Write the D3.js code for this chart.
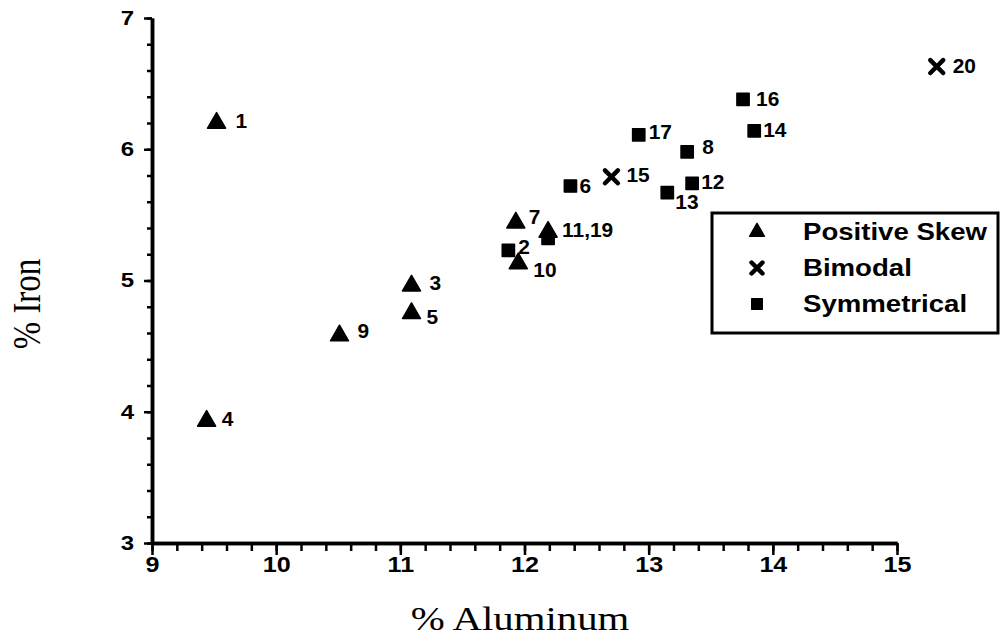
<!DOCTYPE html>
<html>
<head>
<meta charset="utf-8">
<script src="https://cdn.jsdelivr.net/npm/d3@7"></script>
<style>
  html, body { margin: 0; padding: 0; background: #fff; }
  svg { display: block; }
</style>
</head>
<body>
<svg id="chart" width="1006" height="641"></svg>
<script>
// Sample composition: aluminium vs iron content, grouped by grain-size distribution shape
const sampleLabels = ["1", "2", "3", "4", "5", "6", "7", "8", "9", "10", "11,19", "", "12", "13", "14", "15", "16", "17", "20"];
const aluminum     = [9.52, 11.87, 11.09, 9.44, 11.09, 12.37, 11.93, 13.31, 10.51, 11.95, 12.19, 12.19, 13.35, 13.15, 13.85, 12.70, 13.76, 12.92, 15.32];
const iron         = [6.20, 5.23, 4.96, 3.93, 4.75, 5.72, 5.44, 5.98, 4.58, 5.13, 5.37, 5.32, 5.74, 5.67, 6.14, 5.79, 6.38, 6.11, 6.63];
const shapes       = ["Positive Skew", "Symmetrical", "Positive Skew", "Positive Skew", "Positive Skew", "Symmetrical", "Positive Skew", "Symmetrical", "Positive Skew", "Positive Skew", "Positive Skew", "Symmetrical", "Symmetrical", "Symmetrical", "Symmetrical", "Bimodal", "Symmetrical", "Symmetrical", "Bimodal"];

const legendNames = ["Positive Skew", "Bimodal", "Symmetrical"];
const xTicks = [9, 10, 11, 12, 13, 14, 15];
const yTicks = [3, 4, 5, 6, 7];
const xTitle = "% Aluminum";
const yTitle = "% Iron";

const svg = d3.select("#chart");
const SX = 1.2;             // horizontal stretch applied to lettering
const sans = "'Liberation Sans', Arial, sans-serif";
const serif = "'Liberation Serif', 'Times New Roman', serif";

const x = d3.scaleLinear().domain([9, 15]).range([152, 897]);
const y = d3.scaleLinear().domain([3, 7]).range([543, 18]);

// ---- axes ----
const minorX = d3.range(9, 15.001, 0.2);
const minorY = d3.range(3, 7.001, 0.2);

function styleAxis(g) {
  g.select(".domain").attr("stroke", "#000").attr("stroke-width", 3.5);
  g.selectAll(".tick line").attr("stroke", "#000").attr("stroke-width", 2.5);
}

svg.append("g")
  .attr("transform", `translate(0,${y(3)})`)
  .call(d3.axisBottom(x).tickValues(minorX).tickSize(8).tickSizeOuter(0).tickFormat(""))
  .call(styleAxis);

const gx = svg.append("g")
  .attr("transform", `translate(0,${y(3)})`)
  .call(d3.axisBottom(x).tickValues(xTicks).tickSize(12).tickSizeOuter(0).tickPadding(1).tickFormat(d3.format("d")))
  .call(styleAxis);
gx.selectAll(".tick text")
  .attr("font-family", sans).attr("font-weight", "bold").attr("font-size", 22).attr("fill", "#000")
  .attr("transform", `scale(${SX * 0.95},1)`);

svg.append("g")
  .attr("transform", `translate(${x(9)},0)`)
  .call(d3.axisLeft(y).tickValues(minorY).tickSize(5).tickSizeOuter(0).tickFormat(""))
  .call(styleAxis);

const gy = svg.append("g")
  .attr("transform", `translate(${x(9)},0)`)
  .call(d3.axisLeft(y).tickValues(yTicks).tickSize(8).tickSizeOuter(0).tickPadding(7).tickFormat(d3.format("d")))
  .call(styleAxis);
gy.selectAll(".tick text")
  .attr("font-family", sans).attr("font-weight", "bold").attr("font-size", 20).attr("fill", "#000")
  .attr("transform", `scale(${SX},1)`);

// ---- axis titles ----
svg.append("text")
  .attr("transform", `translate(520,630) scale(${SX},1)`)
  .attr("text-anchor", "middle")
  .attr("font-family", serif).attr("font-size", 34)
  .text(xTitle);

svg.append("text")
  .attr("transform", `translate(40,304) scale(${SX},1) rotate(-90)`)
  .attr("text-anchor", "middle")
  .attr("font-family", serif).attr("font-size", 33)
  .text(yTitle);

// ---- markers ----
const markerPath = {
  "Positive Skew": d3.symbol(d3.symbolTriangle, 140)(),
  "Symmetrical": d3.symbol(d3.symbolSquare, 150)(),
  "Bimodal": d3.symbol(d3.symbolX, 110)()
};
const legendPath = {
  "Positive Skew": d3.symbol(d3.symbolTriangle, 95)(),
  "Symmetrical": d3.symbol(d3.symbolSquare, 110)(),
  "Bimodal": d3.symbol(d3.symbolX, 80)()
};

function drawMarker(sel, shape, paths) {
  const p = sel.append("path").attr("d", paths[shape]);
  if (shape === "Bimodal") {
    p.attr("fill", "none").attr("stroke", "#000").attr("stroke-width", 4.5).attr("stroke-linecap", "round");
  } else {
    p.attr("fill", "#000").attr("stroke", "#000").attr("stroke-width", 1.5).attr("stroke-linejoin", "round");
  }
}

// label placement next to each marker (pixels)
const labelOffset = {
  "1": [19, -2], "2": [10, -4], "3": [18, -3], "4": [15, -2], "5": [15, 3],
  "6": [9, 0], "7": [13, -6], "8": [15, -5], "9": [18, -5], "10": [15, 6],
  "11,19": [14, -2], "12": [9, -2], "13": [8, 9], "14": [9, -1], "15": [15, -2],
  "16": [13, -1], "17": [10, -3], "20": [16, -1]
};

const points = aluminum.map((a, i) => ({ a, fe: iron[i], shape: shapes[i], label: sampleLabels[i] }));
// squares first so triangles sit on top where they overlap
const order = points.slice().sort((p, q) => (p.shape === "Positive Skew") - (q.shape === "Positive Skew"));

const pg = svg.append("g");
order.forEach(p => {
  const g = pg.append("g").attr("transform", `translate(${x(p.a)},${y(p.fe)})`);
  drawMarker(g, p.shape, markerPath);
});

const lg = svg.append("g");
points.filter(p => p.label).forEach(p => {
  const [dx, dy] = labelOffset[p.label] || [12, 0];
  lg.append("text")
    .attr("transform", `translate(${x(p.a) + dx},${y(p.fe) + dy}) scale(1.02,1)`)
    .attr("dy", "0.36em")
    .attr("font-family", sans).attr("font-weight", "bold").attr("font-size", 20.5)
    .text(p.label);
});

// ---- legend ----
const leg = svg.append("g");
leg.append("rect")
  .attr("x", 712).attr("y", 213).attr("width", 286).attr("height", 120)
  .attr("fill", "#fff").attr("stroke", "#000").attr("stroke-width", 3);
const rowY = d3.scalePoint().domain(legendNames).range([232, 304]);
legendNames.forEach(name => {
  const g = leg.append("g").attr("transform", `translate(757,${rowY(name)})`);
  drawMarker(g, name, legendPath);
  leg.append("text")
    .attr("transform", `translate(803,${rowY(name)}) scale(${SX},1)`)
    .attr("dy", "0.36em")
    .attr("font-family", sans).attr("font-weight", "bold").attr("font-size", 23)
    .text(name);
});
</script>
</body>
</html>
